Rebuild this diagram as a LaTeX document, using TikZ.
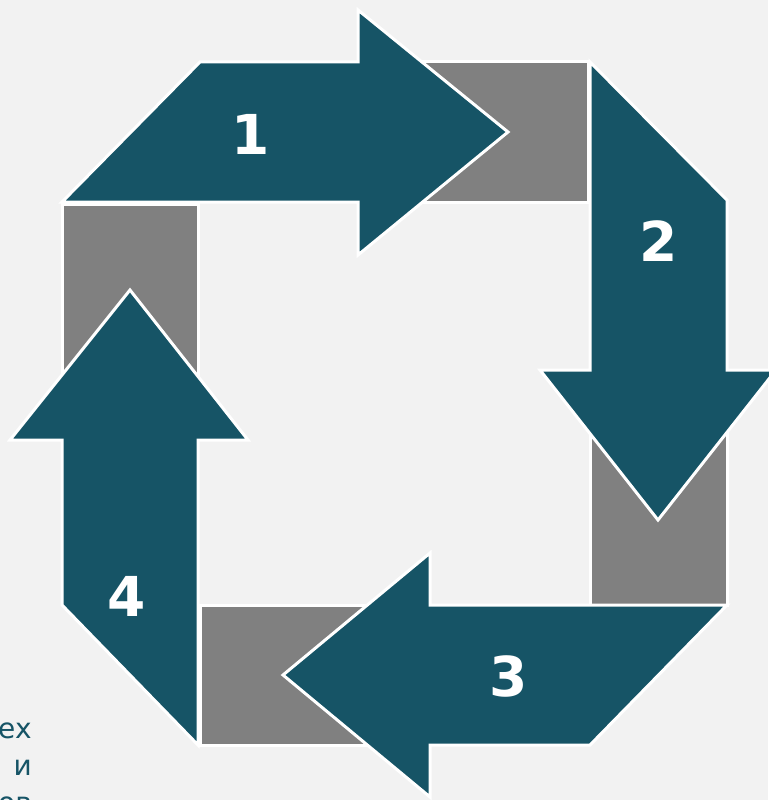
\documentclass[tikz,border=0pt]{standalone}
\usepackage{fontspec}
\newfontfamily\numfont{DejaVu Sans}
\newfontfamily\txtfont{DejaVu Sans}
\definecolor{bg}{HTML}{F2F2F2}
\definecolor{teal}{HTML}{165466}
\definecolor{greyblk}{HTML}{808080}
\tikzset{
  arrowshape/.style={fill=teal, draw=white, line width=3pt, line join=miter},
  greybox/.style={fill=greyblk, draw=white, line width=3pt},
  numlabel/.style={text=white, font=\numfont\bfseries\fontsize{55}{60}\selectfont, inner sep=0pt},
  sidetext/.style={text=teal, font=\txtfont\fontsize{28}{32}\selectfont, inner sep=0pt, anchor=base east}
}
\begin{document}
\begin{tikzpicture}[x=1pt,y=-1pt]
\fill[bg] (0,0) rectangle (768,800);
\useasboundingbox (0,0) rectangle (768,800);
% grey blocks
\path[greybox] (400,62) rectangle (588,202);
\path[greybox] (590,380) rectangle (727,605);
\path[greybox] (200,605) rectangle (420,745);
\path[greybox] (62,204) rectangle (198,430);
% arrows
\path[arrowshape] (62,202) -- (200,62) -- (358,62) -- (358,10) -- (508,132) -- (358,255) -- (358,202) -- cycle;
\path[arrowshape] (590,62) -- (727,200) -- (727,370) -- (776,370) -- (658,520) -- (540,370) -- (590,370) -- cycle;
\path[arrowshape] (727,605) -- (590,745) -- (430,745) -- (430,797) -- (283,675) -- (430,553) -- (430,605) -- cycle;
\path[arrowshape] (198,745) -- (62,605) -- (62,440) -- (10,440) -- (130,290) -- (248,440) -- (198,440) -- cycle;
% labels
\node[numlabel] (n1) at (251,134) {1};
\node[numlabel] (n2) at (658.5,241) {2};
\node[numlabel] (n3) at (509,676) {3};
\node[numlabel] (n4) at (127,596) {4};
% side text
\node[sidetext] (t1) at (32,738) {ех};
\node[sidetext] (t2) at (32,775) {и};
\node[sidetext] (t3) at (32,812) {ов};
\end{tikzpicture}
\end{document}
